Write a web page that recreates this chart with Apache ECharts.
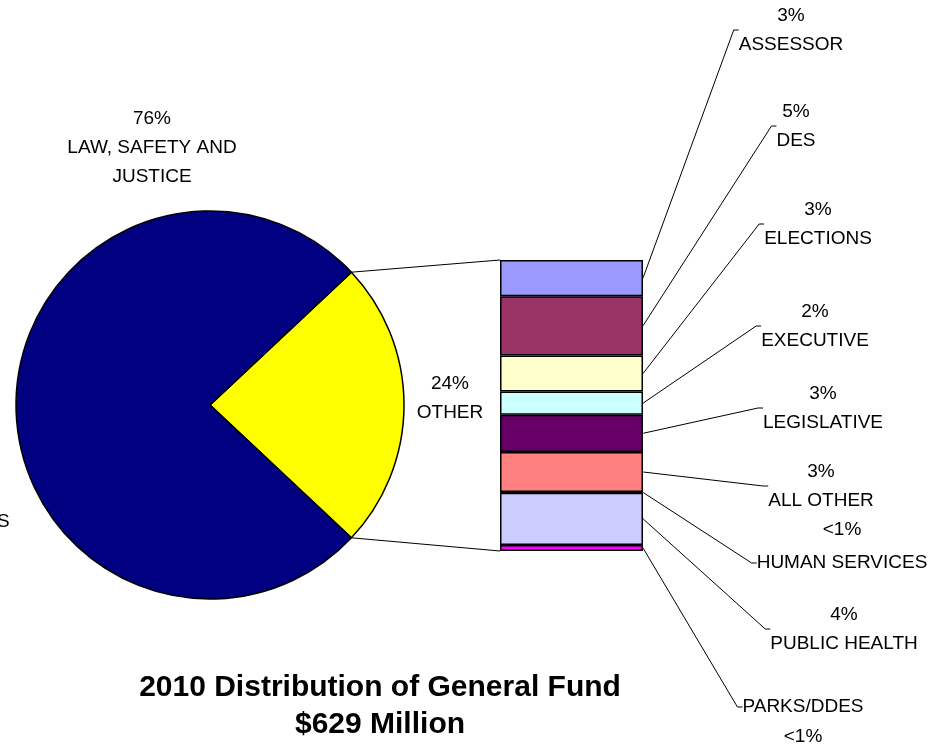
<!DOCTYPE html>
<html>
<head>
<meta charset="utf-8">
<script src="https://cdn.jsdelivr.net/npm/echarts@6/dist/echarts.min.js"></script>
<style>
  html, body { margin: 0; padding: 0; background: #fff; }
  #chart { width: 948px; height: 745px; }
</style>
</head>
<body>
<div id="chart"></div>
<script>
// main pie
const pieNames = ['OTHER', 'LAW, SAFETY AND\nJUSTICE'];
const pieValues = [24, 76];
const pieColors = ['#FFFF00', '#000080'];

// breakdown of OTHER (percent of total fund)
const barNames = ['ASSESSOR', 'DES', 'ELECTIONS', 'EXECUTIVE', 'LEGISLATIVE', 'ALL OTHER', 'HUMAN SERVICES', 'PUBLIC HEALTH', 'PARKS/DDES'];
const barValues = [2.97, 4.87, 2.97, 1.9, 3.05, 3.3, 0.05, 4.29, 0.5];
const barPctLabels = ['3%', '5%', '3%', '2%', '3%', '3%', '<1%', '4%', '<1%'];
const barColors = ['#9999FF', '#993366', '#FFFFCC', '#CCFFFF', '#660066', '#FF8080', '#3366FF', '#CCCCFF', '#FF00FF'];

const titleLines = ['2010 Distribution of General Fund', '$629 Million'];

// label placement (layout only)
// split: the leader line points at the name line, the percent sits apart
const splitLabel = [false, false, false, false, false, false, true, false, true];
const pieLabelPos = [[450, 398], [152, 148]];
const barLabelPos = [[791, 30], [796, 126], [818, 224], [815, 326], [823, 408], [821, 486], [842, 563], [844, 629], [803, 707]];
const pctLabelPos = [null, null, null, null, null, null, [842, 530], null, [803, 737]];

const FONT = '"Liberation Sans", Arial, sans-serif';
const PIE_C = [210, 405];
const PIE_R = 194;
const GRID = { left: 500, top: 260, width: 143, height: 291 };
// extra right padding on callouts keeps the leader line on their left side
const PAD_R = 60;

const chart = echarts.init(document.getElementById('chart'));
const barTotal = barValues.reduce((a, b) => a + b, 0);

// middle of each stacked segment, on the value scale
const segMids = [];
barValues.reduce((acc, v) => { segMids.push(acc + v / 2); return acc + v; }, 0);

const labelText = {
  color: '#000',
  fontFamily: FONT,
  fontSize: 19,
  lineHeight: 29,
  align: 'center'
};

const barSeries = barNames.map((name, i) => ({
  type: 'bar',
  name: name,
  stack: 'other',
  barWidth: '100%',
  data: [barValues[i]],
  silent: true,
  itemStyle: { color: barColors[i], borderColor: '#000', borderWidth: 1.5 }
}));

// anchors on the right edge of the bar carrying the callout labels
const calloutSeries = {
  type: 'scatter',
  xAxisIndex: 1,
  yAxisIndex: 1,
  symbol: 'circle',
  symbolSize: 1,
  silent: true,
  itemStyle: { color: '#000', opacity: 1 },
  z: 5,
  data: segMids.map((m, i) => ({
    value: [1, m],
    label: {
      color: '#000',
      formatter: splitLabel[i] ? barNames[i] : barPctLabels[i] + '\n' + barNames[i]
    }
  })),
  label: Object.assign({
    show: true,
    padding: [0, PAD_R, 0, 0],
    backgroundColor: 'rgba(255,255,255,0)'
  }, labelText),
  labelLine: { show: true, length2: 5, lineStyle: { color: '#000', width: 1 } },
  labelLayout: p => ({
    x: barLabelPos[p.dataIndex][0] + PAD_R / 2,
    y: barLabelPos[p.dataIndex][1],
    align: 'center',
    verticalAlign: 'middle'
  })
};

const pctSeries = {
  type: 'scatter',
  xAxisIndex: 1,
  yAxisIndex: 1,
  symbolSize: 0,
  silent: true,
  itemStyle: { color: 'transparent', opacity: 1 },
  data: segMids.map((m, i) => ({
    value: [1, m],
    label: { show: splitLabel[i], color: '#000', formatter: barPctLabels[i] }
  })),
  label: Object.assign({}, labelText),
  labelLayout: p => {
    const pos = pctLabelPos[p.dataIndex];
    return pos ? { x: pos[0], y: pos[1], align: 'center', verticalAlign: 'middle' } : {};
  }
};

const option = {
  animation: false,
  backgroundColor: '#fff',
  title: {
    text: titleLines.join('\n'),
    left: 375,
    top: 664,
    textAlign: 'center',
    textStyle: { fontFamily: FONT, fontWeight: 'bold', fontSize: 30, lineHeight: 37, color: '#000' }
  },
  grid: [GRID, GRID],
  xAxis: [
    { type: 'category', data: ['OTHER'], show: false },
    { type: 'value', gridIndex: 1, min: 0, max: 1, show: false }
  ],
  yAxis: [
    { type: 'value', min: 0, max: barTotal, inverse: true, show: false },
    { type: 'value', gridIndex: 1, min: 0, max: barTotal, inverse: true, show: false }
  ],
  series: [{
    type: 'pie',
    center: PIE_C,
    radius: PIE_R,
    startAngle: pieValues[0] / 100 * 180,
    clockwise: true,
    silent: true,
    data: pieNames.map((n, i) => ({ name: n, value: pieValues[i], itemStyle: { color: pieColors[i] } })),
    itemStyle: { borderColor: '#000', borderWidth: 1.5 },
    label: Object.assign({ position: 'inside', formatter: p => p.value + '%\n' + p.name }, labelText),
    labelLine: { show: false },
    labelLayout: p => ({ x: pieLabelPos[p.dataIndex][0], y: pieLabelPos[p.dataIndex][1], align: 'center', verticalAlign: 'middle' })
  }].concat(barSeries, [calloutSeries, pctSeries])
};

chart.setOption(option);

// connector lines from the OTHER slice edges to the stacked bar
const half = pieValues[0] / 100 * Math.PI;
const pTop = [PIE_C[0] + PIE_R * Math.cos(half), PIE_C[1] - PIE_R * Math.sin(half)];
const pBot = [PIE_C[0] + PIE_R * Math.cos(half), PIE_C[1] + PIE_R * Math.sin(half)];
const yTop = chart.convertToPixel({ yAxisIndex: 0 }, 0);
const yBot = chart.convertToPixel({ yAxisIndex: 0 }, barTotal);

chart.setOption({
  graphic: [
    { type: 'line', shape: { x1: pTop[0], y1: pTop[1], x2: GRID.left, y2: yTop }, style: { stroke: '#000', lineWidth: 1 }, silent: true },
    { type: 'line', shape: { x1: pBot[0], y1: pBot[1], x2: GRID.left, y2: yBot }, style: { stroke: '#000', lineWidth: 1 }, silent: true },
    { type: 'text', left: -3, top: 512, style: { text: 'S', fill: '#000', font: '19px ' + FONT }, silent: true }
  ]
});
</script>
</body>
</html>
